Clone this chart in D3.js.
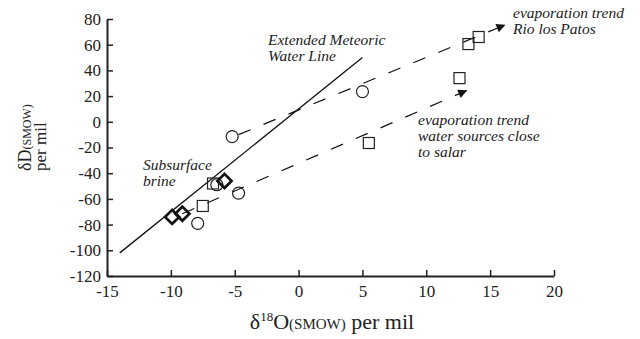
<!DOCTYPE html>
<html>
<head>
<meta charset="utf-8">
<script src="https://cdn.jsdelivr.net/npm/d3@7"></script>
<style>
  body { margin: 0; background: #fff; }
  svg { display: block; }
</style>
</head>
<body>
<svg id="chart" width="640" height="339" font-family="Liberation Serif"></svg>
<script>
// ----------------------------
// Data (delta 18O, delta D)
// ----------------------------
var xTicks = [-15, -10, -5, 0, 5, 10, 15, 20];
var yTicks = [-120, -100, -80, -60, -40, -20, 0, 20, 40, 60, 80];

var circlePoints = [[-5.2, -11.5], [5.0, 23.5], [-6.4, -49], [-4.7, -55.5], [-7.9, -79]];
var squarePoints = [[-7.5, -65.5], [-6.7, -48], [5.5, -16.5], [12.6, 34], [13.3, 60.5], [14.1, 66]];
var diamondPoints = [[-9.9, -74], [-9.1, -71.5], [-5.8, -46]];

// Extended meteoric water line, dD = 8 d18O + 10
var mwlX = [-14, 5];
var mwlSlope = 8, mwlIntercept = 10;

// Evaporation trends (start, arrow tip)
var trendUpper = [[-4.7, -10], [16.2, 75.5]];
var trendLower = [[-9.1, -71.5], [13.2, 24.5]];

var SERIF = "Liberation Serif";

//----------------------------
// Scales and axes
//----------------------------
var svg = d3.select("#chart");
var x = d3.scaleLinear().domain([-15, 20]).range([107, 554]);
var y = d3.scaleLinear().domain([-120, 80]).range([276, 19]);

svg.append("defs").append("marker")
    .attr("id", "arrow")
    .attr("viewBox", "0 0 10 10")
    .attr("refX", 10).attr("refY", 5)
    .attr("markerUnits", "userSpaceOnUse")
    .attr("markerWidth", 11).attr("markerHeight", 9)
    .attr("orient", "auto")
    .append("path")
    .attr("d", "M0,0L10,5L0,10Z")
    .attr("fill", "#111");

var plain = d => String(d);

var yAxis = svg.append("g")
    .attr("transform", "translate(107,0)")
    .call(d3.axisLeft(y).tickValues(yTicks).tickFormat(plain).tickSize(-6).tickSizeOuter(0).tickPadding(6));

var xAxis = svg.append("g")
    .attr("transform", "translate(0,276)")
    .call(d3.axisBottom(x).tickValues(xTicks).tickFormat(plain).tickSize(-6).tickSizeOuter(0).tickPadding(9));

[yAxis, xAxis].forEach(function (g) {
    g.attr("font-family", SERIF).attr("font-size", 17);
    g.select(".domain").attr("stroke", "#222").attr("stroke-width", 2);
    g.selectAll(".tick line").attr("stroke", "#222").attr("stroke-width", 1.5);
    g.selectAll(".tick text")
        .attr("font-family", SERIF)
        .attr("font-size", 17)
        .attr("fill", "#222");
});

//----------------------------
// Lines
//----------------------------
svg.append("line")
    .attr("x1", x(mwlX[0])).attr("y1", y(mwlSlope * mwlX[0] + mwlIntercept))
    .attr("x2", x(mwlX[1])).attr("y2", y(mwlSlope * mwlX[1] + mwlIntercept))
    .attr("stroke", "#111").attr("stroke-width", 1.3);

[trendUpper, trendLower].forEach(function (t) {
    svg.append("line")
        .attr("x1", x(t[0][0])).attr("y1", y(t[0][1]))
        .attr("x2", x(t[1][0])).attr("y2", y(t[1][1]))
        .attr("stroke", "#111").attr("stroke-width", 1.2)
        .attr("stroke-dasharray", "13,14")
        .attr("marker-end", "url(#arrow)");
});

//----------------------------
// Points
//----------------------------
svg.selectAll(".circ").data(circlePoints).enter().append("circle")
    .attr("class", "circ")
    .attr("cx", d => x(d[0])).attr("cy", d => y(d[1]))
    .attr("r", 6)
    .attr("fill", "none").attr("stroke", "#222").attr("stroke-width", 1.2);

svg.selectAll(".sq").data(squarePoints).enter().append("rect")
    .attr("class", "sq")
    .attr("x", d => x(d[0]) - 5.5).attr("y", d => y(d[1]) - 5.5)
    .attr("width", 11).attr("height", 11)
    .attr("fill", "none").attr("stroke", "#222").attr("stroke-width", 1.2);

svg.selectAll(".dia").data(diamondPoints).enter().append("path")
    .attr("class", "dia")
    .attr("transform", d => `translate(${x(d[0])},${y(d[1])}) rotate(45)`)
    .attr("d", d3.symbol().type(d3.symbolSquare).size(100))
    .attr("fill", "none").attr("stroke", "#111").attr("stroke-width", 2.7);

//----------------------------
// Annotations
//----------------------------
function note(xp, yp, lines) {
    var t = svg.append("text")
        .attr("font-family", SERIF)
        .attr("font-style", "italic")
        .attr("font-size", 15.5)
        .attr("fill", "#222");
    lines.forEach(function (s, i) {
        t.append("tspan").attr("x", xp).attr("y", yp + i * 16).text(s);
    });
}
note(268, 45, ["Extended Meteoric", "Water Line"]);
note(513, 18, ["evaporation trend", "Rio los Patos"]);
note(418, 125, ["evaporation trend", "water sources close", "to salar"]);
note(143, 170, ["Subsurface", "brine"]);

// x label
var xl = svg.append("text")
    .attr("x", 332).attr("y", 329)
    .attr("text-anchor", "middle")
    .attr("font-family", SERIF)
    .attr("font-size", 22)
    .attr("fill", "#222");
xl.append("tspan").text("δ");
xl.append("tspan").attr("font-size", 13).attr("dy", -8).text("18");
xl.append("tspan").attr("dy", 8).text("O");
xl.append("tspan").attr("font-size", 15).text("(SMOW)");
xl.append("tspan").text(" per mil");

// y label
var yl = svg.append("text")
    .attr("transform", "translate(31,171) rotate(-90)")
    .attr("font-family", SERIF)
    .attr("font-size", 18)
    .attr("fill", "#222");
yl.append("tspan").text("δD");
yl.append("tspan").attr("font-size", 12).text("(SMOW)");
yl.append("tspan").attr("x", 0).attr("dy", 15).attr("font-size", 17).text("per mil");
</script>
</body>
</html>
